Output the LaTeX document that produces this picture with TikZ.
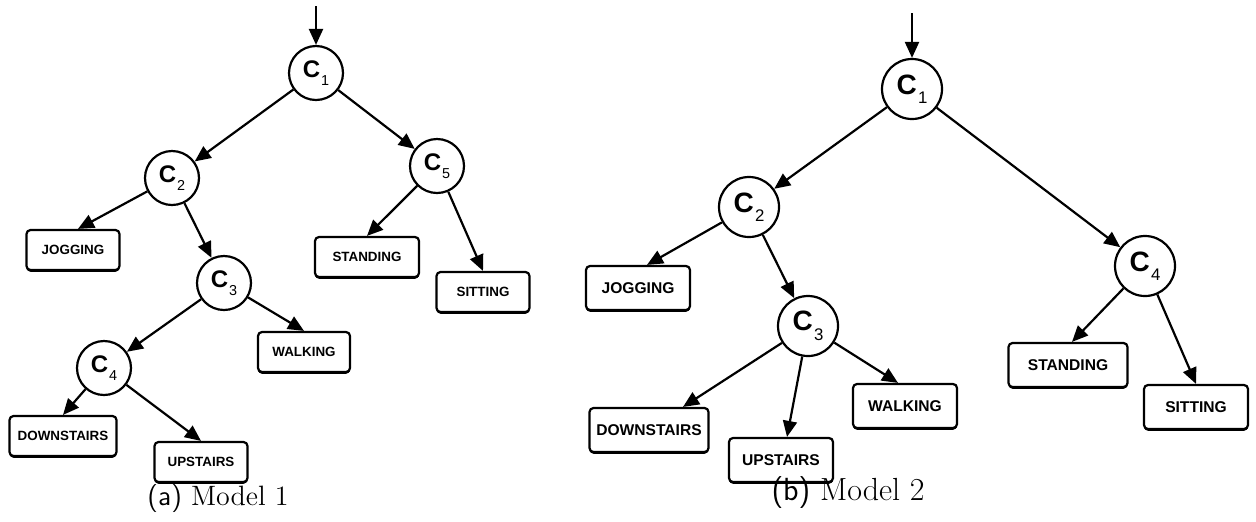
\documentclass[tikz,border=0pt]{standalone}
\usepackage{fontspec}
\newfontfamily\arial{Liberation Sans}
\usetikzlibrary{arrows.meta,shadows}

% classifier label with a lowered index
\newcommand{\cname}[1]{C\kern0.04em\raisebox{-0.34em}{\scalebox{0.6}{\mdseries #1}}}

\begin{document}
\begin{tikzpicture}[
    x=0.5pt, y=-0.5pt,
    cls/.style={
        circle,
        draw=black,
        line width=1.1pt,
        fill=white,
        inner sep=0pt,
        font=\arial\bfseries
    },
    leaf/.style={
        rectangle,
        rounded corners=2pt,
        draw=black,
        line width=1.1pt,
        fill=white,
        inner sep=0pt,
        font=\arial\bfseries,
        drop shadow={shadow xshift=0pt, shadow yshift=-0.9pt, fill=black, opacity=1}
    },
    arrow/.style={
        -{Triangle[length=8pt, width=7pt]},
        line width=1.1pt,
        draw=black
    },
    caption/.style={font=\fontsize{14}{16}\selectfont}
]
\useasboundingbox (0,0) rectangle (1256,521);

% Model 1
\begin{scope}[
    cls/.append style={minimum size=27pt, font=\arial\bfseries\fontsize{12}{14}\selectfont},
    leaf/.append style={minimum width=46.5pt, minimum height=20pt, font=\arial\bfseries\fontsize{6.7}{8}\selectfont}
]
\coordinate (in1) at (316,6);
\node[cls] (c1) at (316,73) {\cname{1}};
\node[cls] (c2) at (172,178) {\cname{2}};
\node[cls] (c5) at (437,166) {\cname{5}};
\node[cls] (c3) at (224,283) {\cname{3}};
\node[cls] (c4) at (104,368) {\cname{4}};

\node[leaf] (jog) at (73,250) {JOGGING};
\node[leaf, minimum width=52pt] (stand) at (367,257) {STANDING};
\node[leaf] (sit) at (483,292) {SITTING};
\node[leaf, minimum width=46pt] (walk) at (304,352) {WALKING};
\node[leaf, minimum width=53.5pt] (down) at (63,436) {DOWNSTAIRS};
\node[leaf] (up) at (201,462) {UPSTAIRS};

\draw[arrow] (in1) -- (c1);
\draw[arrow] (c1) -- (c2);
\draw[arrow] (c1) -- (c5);
\draw[arrow] (c2) -- ([xshift=2.5pt]jog.north);
\draw[arrow] (c2) -- (c3);
\draw[arrow] (c5) -- (stand.north);
\draw[arrow] (c5) -- (sit.north);
\draw[arrow] (c3) -- (c4);
\draw[arrow] (c3) -- (walk.north);
\draw[arrow] (c4) -- (down.north);
\draw[arrow] (c4) -- (up.north);

\node[caption] (capa) at (218,498) {\textsf{(a)} Model 1};
\end{scope}

% Model 2
\begin{scope}[
    cls/.append style={minimum size=30pt, font=\arial\bfseries\fontsize{14}{16}\selectfont},
    leaf/.append style={minimum width=52pt, minimum height=22pt, font=\arial\bfseries\fontsize{7.8}{9}\selectfont},
    caption/.append style={font=\fontsize{16}{18}\selectfont}
]
\coordinate (in2) at (912,13);
\node[cls] (d1) at (912,89) {\cname{1}};
\node[cls] (d2) at (749,207) {\cname{2}};
\node[cls] (d3) at (808,326) {\cname{3}};
\node[cls] (d4) at (1145,266) {\cname{4}};

\node[leaf] (jog2) at (638,288) {JOGGING};
\node[leaf, minimum width=59.5pt] (down2) at (649,430) {DOWNSTAIRS};
\node[leaf] (up2) at (781,460) {UPSTAIRS};
\node[leaf] (walk2) at (905,406) {WALKING};
\node[leaf, minimum width=59.5pt] (stand2) at (1068,365) {STANDING};
\node[leaf] (sit2) at (1196,407) {SITTING};

\draw[arrow] (in2) -- (d1);
\draw[arrow] (d1) -- (d2);
\draw[arrow] (d1) -- (d4);
\draw[arrow] (d2) -- ([xshift=4.5pt]jog2.north);
\draw[arrow] (d2) -- (d3);
\draw[arrow] (d3) -- ([xshift=17pt]down2.north);
\draw[arrow] (d3) -- ([xshift=3pt]up2.north);
\draw[arrow] (d3) -- ([xshift=-3.5pt]walk2.north);
\draw[arrow] (d4) -- ([xshift=2pt]stand2.north);
\draw[arrow] (d4) -- (sit2.north);

\node[caption] (capb) at (848,493) {\textsf{(b)} Model 2};
\end{scope}

\end{tikzpicture}
\end{document}
